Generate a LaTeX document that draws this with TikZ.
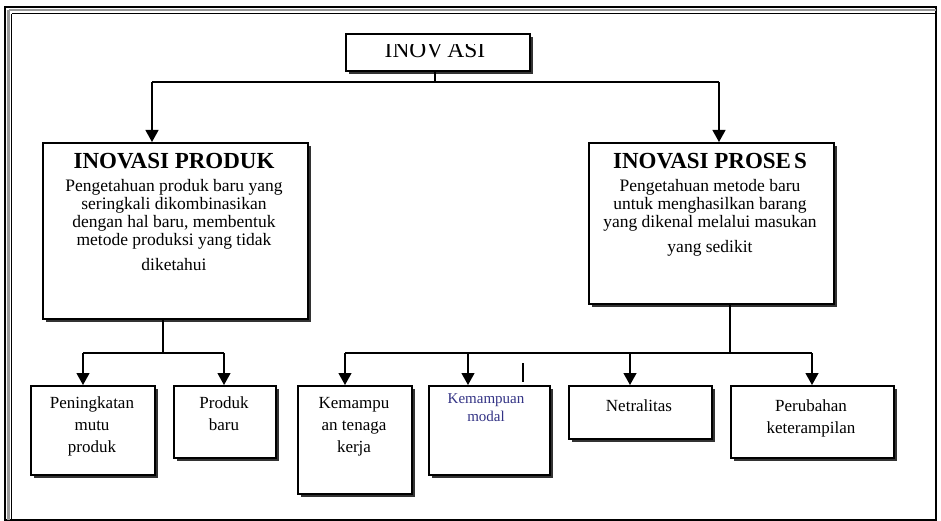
\documentclass[tikz,border=0pt]{standalone}
\usepackage{fontspec}
\setmainfont{Liberation Serif}
\usetikzlibrary{arrows.meta,shadows}
\begin{document}
\begin{tikzpicture}[x=1pt,y=-1pt,
  box/.style={draw, line width=2.3pt, fill=white, inner sep=0pt, anchor=north west,
    drop shadow={shadow xshift=3pt, shadow yshift=-3pt, fill=black, opacity=0.8}},
  link/.style={line width=1.2pt},
  arr/.style={line width=1.2pt, -{Triangle[width=13pt,length=12pt]}},
  ttl/.style={font=\fontsize{23}{24}\selectfont\bfseries, inner sep=0pt, anchor=base},
  body/.style={font=\fontsize{17.5}{18}\selectfont, align=center, inner sep=0pt, anchor=north},
  leaf/.style={font=\fontsize{17}{22}\selectfont, align=center, inner sep=0pt, anchor=north},
  small/.style={font=\fontsize{15}{18}\selectfont, text=blue!40!black!80, align=center, inner sep=0pt, anchor=north}]

\useasboundingbox (0,0) rectangle (941,521);

% outer double frame
\draw[line width=1.4pt] (5,7) rectangle (936,520);
\draw[line width=2.5pt, black!40] (8.5,10) -- (8.5,520);
\draw[line width=2.5pt, black!40] (8.5,10) -- (936,10);
\draw[line width=1.2pt] (11.8,13.8) -- (11.8,520);
\draw[line width=1.2pt] (11.8,13.8) -- (935,13.8);

% top box, its caption cut off at the top
\node[box, minimum width=184pt, minimum height=37pt] (ino) at (345,33) {};
\begin{scope}
  \clip (345,44.5) rectangle (529,70);
  \node[font=\fontsize{23.5}{24}\selectfont, inner sep=0pt, anchor=base] (inotxt) at (435,58) {INOV\kern4pt ASI};
\end{scope}

% second level
\node[box, minimum width=265pt, minimum height=176pt] (pr) at (42,142) {};
\node[ttl] (prt) at (174,169) {INOVASI PRODUK};
\node[body] (prb) at (174,179) {Pengetahuan produk baru yang\\seringkali dikombinasikan\\dengan hal baru, membentuk\\metode produksi yang tidak\\[7pt]diketahui};

\node[box, minimum width=245pt, minimum height=161pt] (ps) at (588,142) {};
\node[ttl] (pst) at (710,169) {INOVASI PROSE\kern3pt S};
\node[body] (psb) at (710,179) {Pengetahuan metode baru\\untuk menghasilkan barang\\yang dikenal melalui masukan\\[7pt]yang sedikit};

% third level
\node[box, minimum width=124pt, minimum height=89pt] (b1) at (30,385) {};
\node[leaf] (b1t) at (92,397) {Peningkatan\\mutu\\produk};
\node[box, minimum width=102pt, minimum height=72pt] (b2) at (173,385) {};
\node[leaf] (b2t) at (224,397) {Produk\\baru};
\node[box, minimum width=114pt, minimum height=108pt] (b3) at (297,385) {};
\node[leaf] (b3t) at (354,397) {Kemampu\\an tenaga\\kerja};
\node[box, minimum width=121pt, minimum height=89pt] (b4) at (428,385) {};
\node[small] (b4t) at (486,393) {Kemampuan\\modal};
\node[box, minimum width=143pt, minimum height=53pt] (b5) at (568,385) {};
\node[leaf] (b5t) at (639,400) {Netralitas};
\node[box, minimum width=163pt, minimum height=72pt] (b6) at (730,385) {};
\node[leaf] (b6t) at (811,400) {Perubahan\\keterampilan};

% connectors, top level
\coordinate (j0) at (435,82);
\coordinate (jl) at (152,82);
\coordinate (jr) at (719,82);
\draw[link] (ino.south -| j0) -- (j0);
\draw[link] (jl) -- (jr);
\draw[arr] (jl) -- (jl |- pr.north);
\draw[arr] (jr) -- (jr |- ps.north);

% connectors under INOVASI PRODUK
\coordinate (k0) at (163,353);
\coordinate (k1) at (83,353);
\coordinate (k2) at (224,353);
\draw[link] (k0 |- pr.south) -- (k0);
\draw[link] (k1) -- (k2);
\draw[arr] (k1) -- (k1 |- b1.north);
\draw[arr] (k2) -- (k2 |- b2.north);

% connectors under INOVASI PROSES
\coordinate (m0) at (730,353);
\coordinate (m1) at (345,353);
\coordinate (m2) at (468,353);
\coordinate (m3) at (630,353);
\coordinate (m4) at (812,353);
\draw[link] (m0 |- ps.south) -- (m0);
\draw[link] (m1) -- (m4);
\draw[arr] (m1) -- (m1 |- b3.north);
\draw[arr] (m2) -- (m2 |- b4.north);
\draw[arr] (m3) -- (m3 |- b5.north);
\draw[arr] (m4) -- (m4 |- b6.north);

% short stroke above the modal box
\coordinate (s0) at (523,363);
\coordinate (s1) at (523,382);
\draw[line width=2.6pt] (s0) -- (s1);
\end{tikzpicture}
\end{document}
